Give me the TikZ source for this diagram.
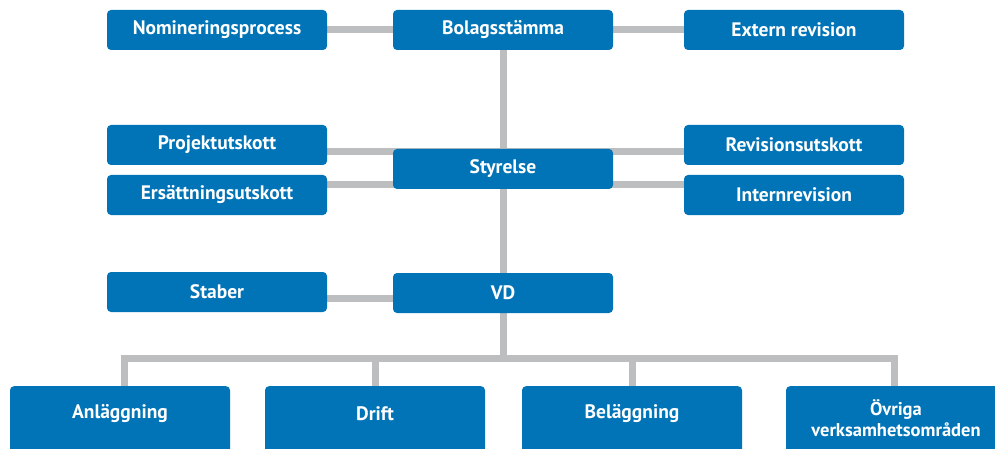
\documentclass[tikz,border=0pt]{standalone}
\usepackage{fontspec}
\setmainfont{PT Sans}
\usetikzlibrary{backgrounds}
\definecolor{boxblue}{RGB}{0,116,183}
\definecolor{linegray}{RGB}{188,190,192}
\begin{document}
\begin{tikzpicture}[x=1pt,y=-1pt,
  box/.style={fill=boxblue,rounded corners=4pt,minimum width=220pt,minimum height=40pt,
    inner sep=0pt,text=white,font=\bfseries\fontsize{19.5}{21}\selectfont},
  unit/.style={box,minimum height=90pt,anchor=north},
  lbl/.style={text=white,align=center,font=\bfseries\fontsize{19.5}{21}\selectfont},
  link/.style={linegray,line width=7pt}]
\clip (0,0) rectangle (995,449);

\node[box] (nom) at (217,30) {Nomineringsprocess};
\node[box] (bol) at (503,30) {Bolagsstämma};
\node[box] (ext) at (794,30) {Extern revision};

\node[box] (proj) at (217,145) {Projektutskott};
\node[box] (ers) at (217,195) {Ersättningsutskott};
\node[box] (sty) at (503,169) {Styrelse};
\node[box] (rev) at (794,145) {Revisionsutskott};
\node[box] (intern) at (794,195) {Internrevision};

\node[box] (staber) at (217,292) {Staber};
\node[box] (vd) at (503,293) {VD};

\node[unit] (anl) at (120,386) {};
\node[unit] (drift) at (375,386) {};
\node[unit] (bel) at (632,386) {};
\node[unit] (ovr) at (896,386) {};
\node[lbl] (anltext) at (120,414) {Anläggning};
\node[lbl] (drifttext) at (375,414) {Drift};
\node[lbl] (beltext) at (632,414) {Beläggning};
\node[lbl,font=\bfseries\fontsize{18.5}{21}\selectfont] (ovrtext) at (896,418) {Övriga\\verksamhetsområden};

\coordinate (bus) at (503,358);

\begin{scope}[on background layer]
\draw[link] (nom) -- (bol) -- (ext);
\draw[link] (bol) -- (sty) -- (vd);
\draw[link] ([yshift=-7pt]proj.east) -- ([yshift=-7pt]proj.east -| rev.west);
\draw[link] ([yshift=10pt]ers.east) -- ([yshift=10pt]ers.east -| intern.west);
\draw[link] ([yshift=-6pt]staber.east) -- ([yshift=-6pt]staber.east -| vd.center);
\draw[link] (vd) -- (bus);
\draw[link] ([xshift=4pt]anl.north) |- (bus);
\draw[link] (drift.north) |- (bus);
\draw[link] (bel.north) |- (bus);
\draw[link] ([xshift=-2pt]ovr.north) |- (bus);
\end{scope}
\end{tikzpicture}
\end{document}
